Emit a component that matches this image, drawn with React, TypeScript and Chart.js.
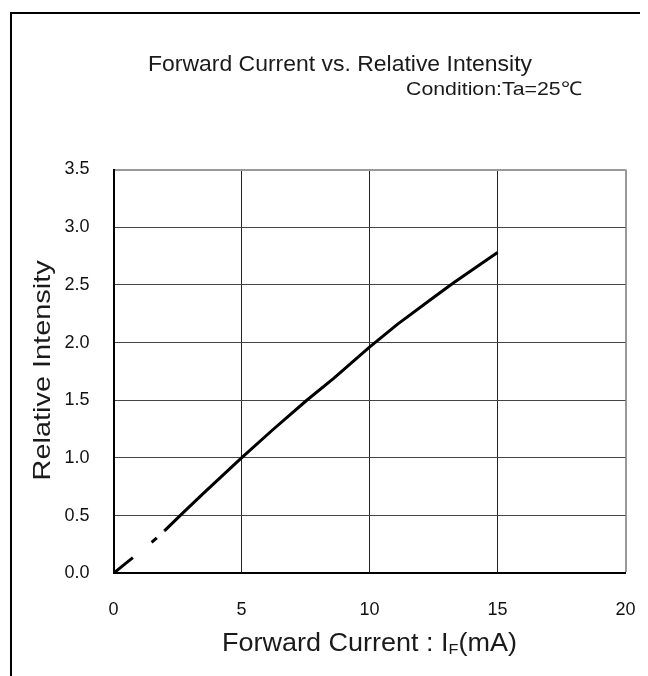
import React, { useEffect, useRef } from "react";
import { Chart, registerables } from "chart.js";

Chart.register(...registerables);

// ---- data ----
const currentMA = [0, 0.5, 1, 1.5, 2, 2.6, 3.5, 5, 6.2, 7.55, 8.6, 10, 11.1, 12.5, 13.3, 15];
const relIntensity = [0, 0.09, 0.18, 0.27, 0.37, 0.5, 0.69, 1.0, 1.24, 1.5, 1.69, 1.96, 2.16, 2.39, 2.52, 2.78];
const dashedUpTo = 2; // part drawn dashed below this current
const xTickValues = [0, 5, 10, 15, 20];
const yTickValues = [0, 0.5, 1.0, 1.5, 2.0, 2.5, 3.0, 3.5];
const titleText = "Forward Current vs. Relative Intensity";
const conditionText = "Condition:Ta=25℃";
const yTitleText = "Relative Intensity";
const xTitleMain = "Forward Current : I";
const xTitleSub = "F";
const xTitleUnit = "(mA)";

const FONT = "'Liberation Sans', Arial, sans-serif";

function drawFitted(
  ctx: CanvasRenderingContext2D,
  parts: { text: string; size: number; dy: number }[],
  targetWidth: number,
  align: "center" | "right" = "center"
) {
  let total = 0;
  const widths = parts.map((p) => {
    ctx.font = `${p.size}px ${FONT}`;
    const w = ctx.measureText(p.text).width;
    total += w;
    return w;
  });
  const s = targetWidth / total;
  ctx.save();
  ctx.scale(s, 1);
  let x = align === "center" ? -total / 2 : -total;
  parts.forEach((p, i) => {
    ctx.font = `${p.size}px ${FONT}`;
    ctx.textAlign = "left";
    ctx.textBaseline = "alphabetic";
    ctx.fillText(p.text, x, p.dy);
    x += widths[i];
  });
  ctx.restore();
}

const textPlugin = {
  id: "customTexts",
  afterDraw(chart: any) {
    const ctx: CanvasRenderingContext2D = chart.ctx;
    const area = chart.chartArea;
    ctx.save();
    ctx.fillStyle = "#1a1a1a";
    // main title
    ctx.save();
    ctx.translate(332, 63);
    drawFitted(ctx, [{ text: titleText, size: 22, dy: 0 }], 384);
    ctx.restore();
    // condition
    ctx.save();
    ctx.translate(574, 87);
    drawFitted(ctx, [{ text: conditionText, size: 19, dy: 0 }], 176, "right");
    ctx.restore();
    // y title
    ctx.save();
    ctx.translate(42, (area.top + area.bottom) / 2 - 1);
    ctx.rotate(-Math.PI / 2);
    drawFitted(ctx, [{ text: yTitleText, size: 24, dy: 0 }], 220);
    ctx.restore();
    // x title
    ctx.save();
    ctx.translate(361.5, 643);
    drawFitted(
      ctx,
      [
        { text: xTitleMain, size: 25, dy: 0 },
        { text: xTitleSub, size: 15, dy: 3 },
        { text: xTitleUnit, size: 25, dy: 0 },
      ],
      295
    );
    ctx.restore();
    ctx.restore();
  },
};

export default function App() {
  const ref = useRef<HTMLCanvasElement | null>(null);

  useEffect(() => {
    if (!ref.current) return;
    const points = currentMA.map((x, i) => ({ x, y: relIntensity[i] }));
    const chart = new Chart(ref.current, {
      type: "line",
      data: {
        datasets: [
          {
            data: points,
            borderColor: "#000",
            borderWidth: 3,
            pointRadius: 0,
            tension: 0,
            fill: false,
            borderCapStyle: "butt",
            borderJoinStyle: "round",
            segment: {
              borderDash: (c: any) => (c.p1.parsed.x <= dashedUpTo ? [25, 24, 7, 10] : undefined),
            },
          },
        ],
      },
      options: {
        animation: false,
        responsive: false,
        devicePixelRatio: 1,
        layout: { padding: { left: 45.5, top: 161.5, right: 22.5, bottom: 52.7 } },
        plugins: {
          legend: { display: false },
          tooltip: { enabled: false },
          title: { display: false },
        },
        scales: {
          x: {
            type: "linear",
            min: 0,
            max: 20,
            afterFit: (s: any) => {
              s.height = 50;
              s.paddingLeft = 0;
              s.paddingRight = 0;
            },
            afterBuildTicks: (s: any) => {
              s.ticks = xTickValues.map((v) => ({ value: v }));
            },
            ticks: {
              color: "#111",
              padding: 26,
              font: { family: FONT, size: 18 },
              callback: (v: any) => String(v),
              maxRotation: 0,
            },
            grid: {
              drawTicks: false,
              color: (c: any) => (c.tick && c.tick.value === 20 ? "#999" : "#222"),
              lineWidth: (c: any) => (c.tick && c.tick.value === 20 ? 2 : 1),
            },
            border: { display: true, color: "#000", width: 2 },
          },
          y: {
            type: "linear",
            min: 0,
            max: 3.5,
            afterFit: (s: any) => {
              s.width = 60;
            },
            afterBuildTicks: (s: any) => {
              s.ticks = yTickValues.map((v) => ({ value: v }));
            },
            ticks: {
              color: "#111",
              padding: 24,
              font: { family: FONT, size: 18 },
              callback: (v: any) => Number(v).toFixed(1),
            },
            grid: {
              drawTicks: false,
              color: (c: any) => (c.tick && c.tick.value === 3.5 ? "#999" : "#444"),
              lineWidth: (c: any) => (c.tick && c.tick.value === 3.5 ? 2 : 1),
            },
            border: { display: true, color: "#000", width: 2 },
          },
        },
      },
      plugins: [textPlugin],
    });
    return () => chart.destroy();
  }, []);

  return (
    <div style={{ position: "relative", width: 640, height: 668, overflow: "hidden" }}>
      <div
        style={{
          position: "absolute",
          left: 2,
          top: 4,
          width: 800,
          height: 800,
          borderTop: "2px solid #000",
          borderLeft: "2px solid #000",
        }}
      />
      <canvas
        ref={ref}
        width={640}
        height={668}
        style={{ position: "absolute", left: 0, top: 0, width: 640, height: 668 }}
      />
    </div>
  );
}
